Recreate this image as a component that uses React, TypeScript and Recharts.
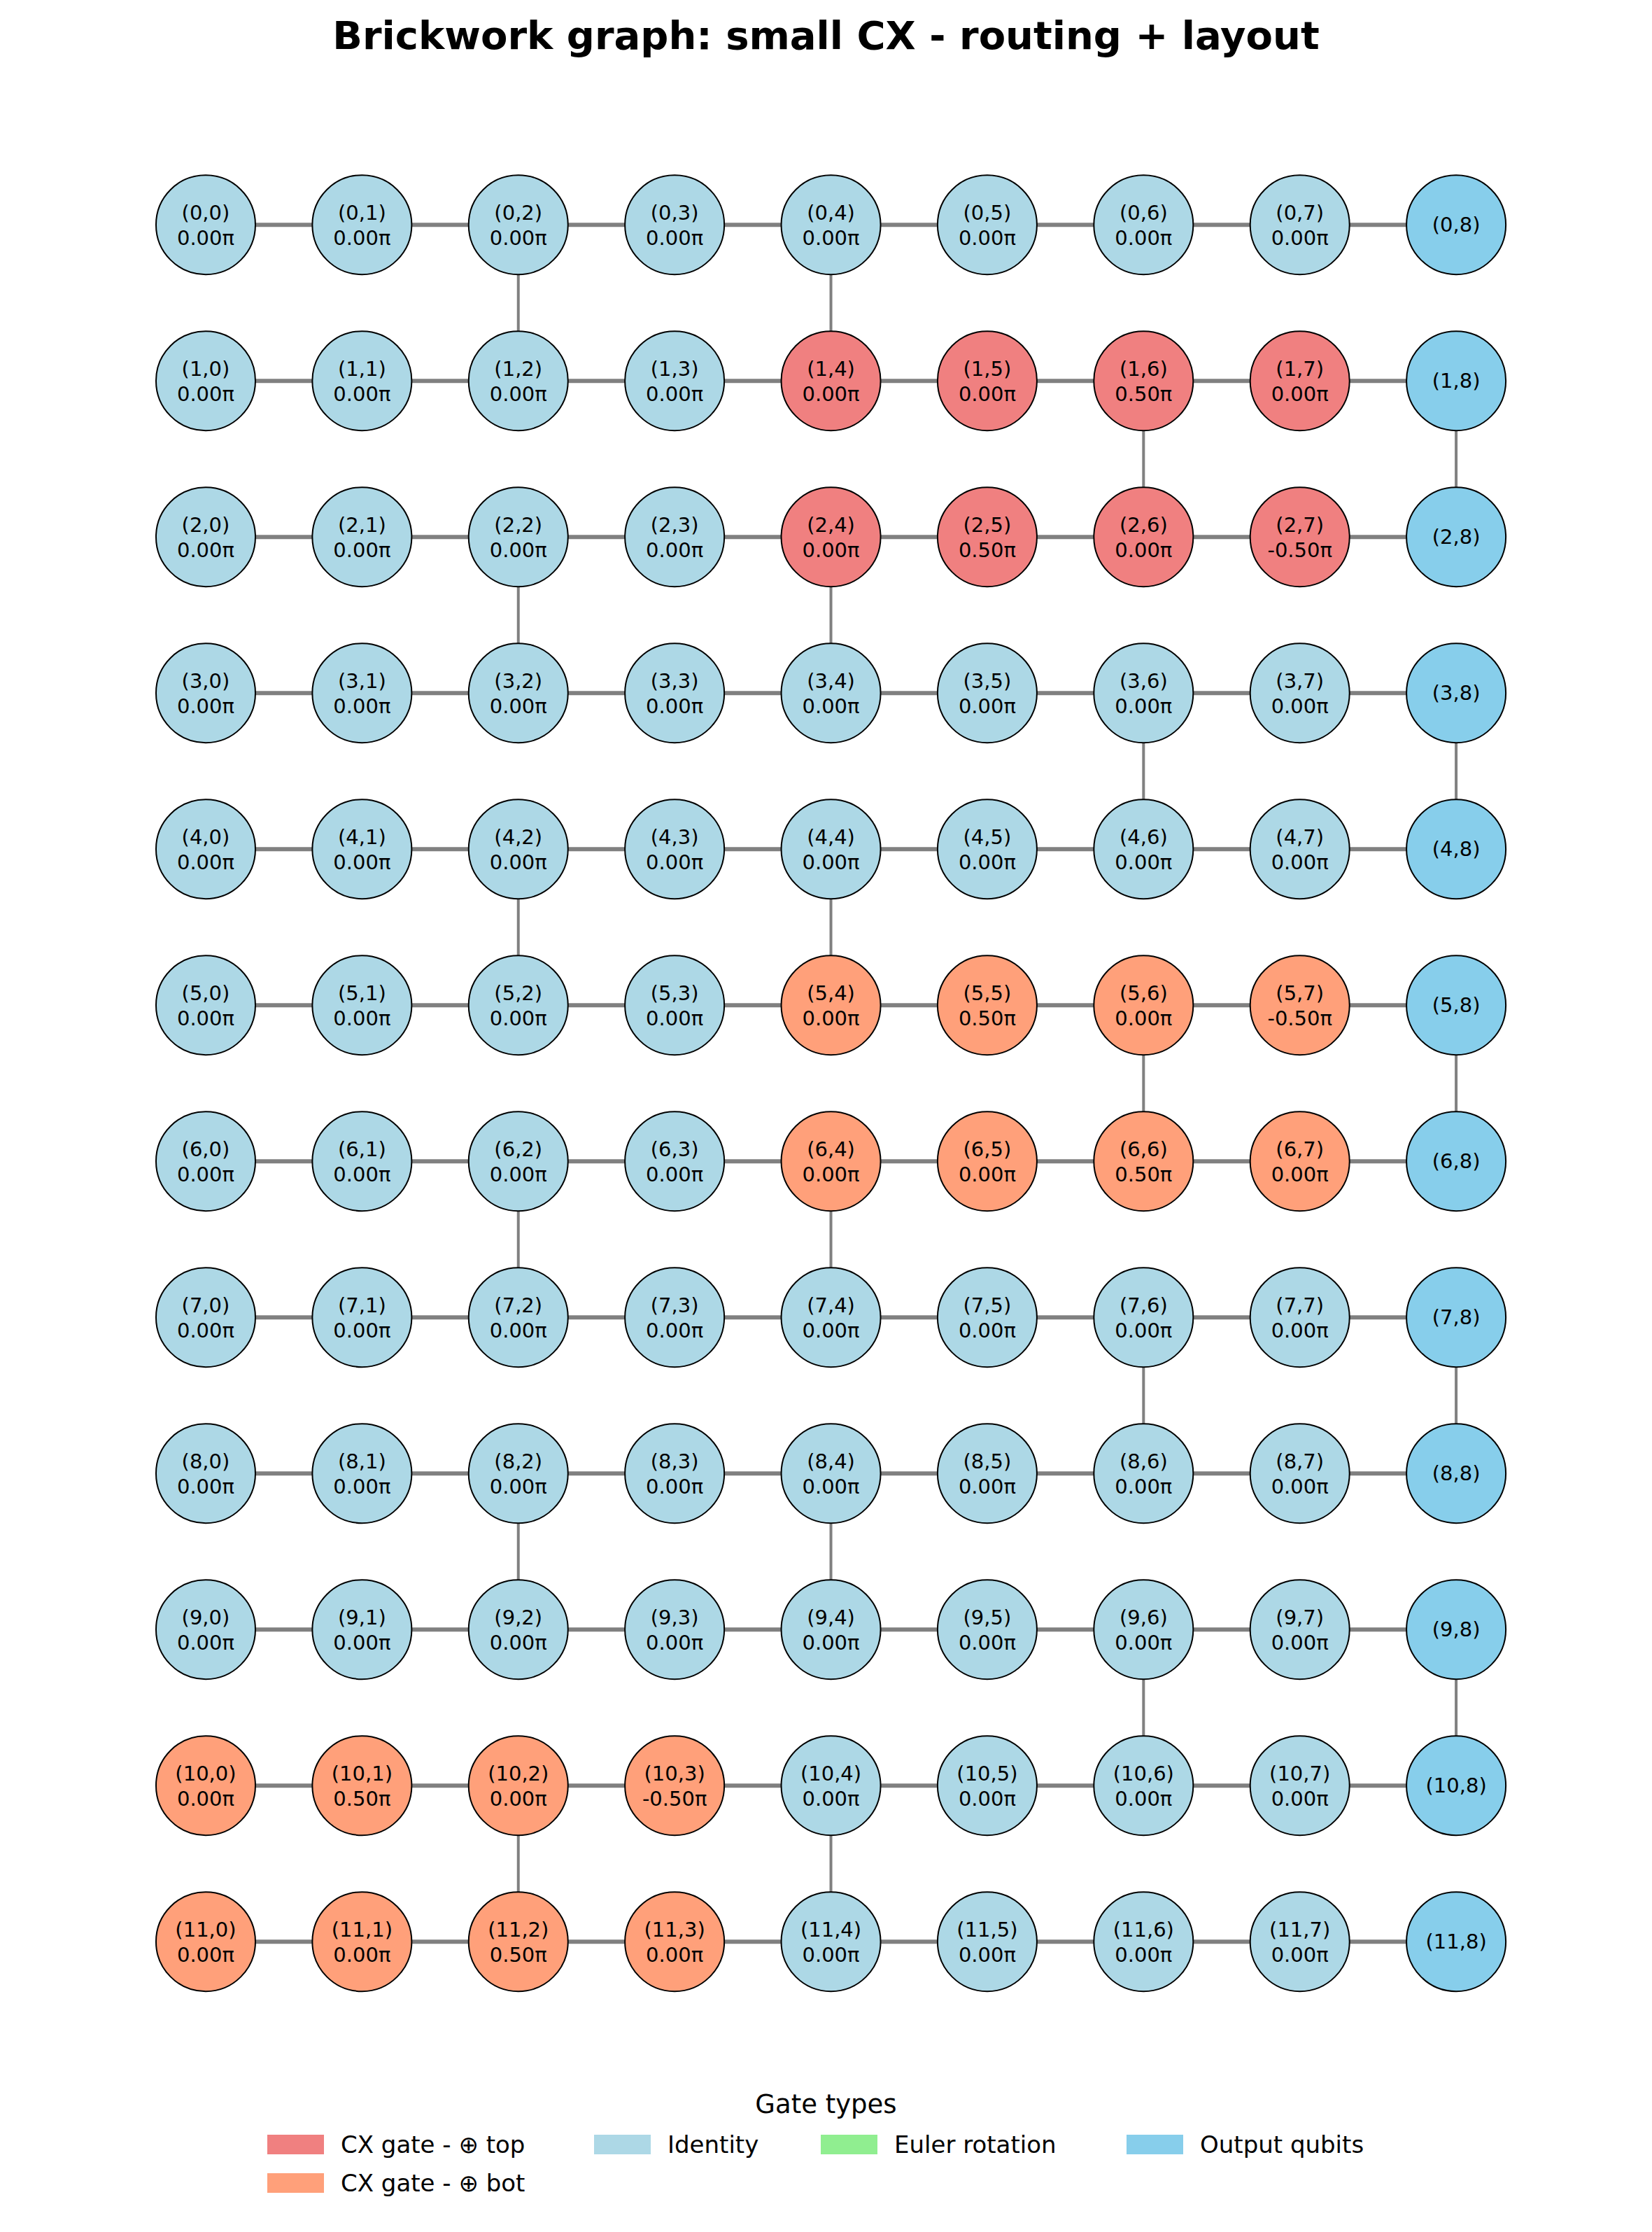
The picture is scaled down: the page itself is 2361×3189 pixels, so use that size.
import { ScatterChart, Scatter, XAxis, YAxis } from 'recharts';

const ROWS = 12;
const COLS = 9;
// vertical links between row r and r+1
const verticalCols: number[][] = [
  [2, 4], [6, 8], [2, 4], [6, 8], [2, 4], [6, 8], [2, 4], [6, 8], [2, 4], [6, 8], [2, 4],
];
const cxTop: [number, number][] = [
  [1, 4], [1, 5], [1, 6], [1, 7], [2, 4], [2, 5], [2, 6], [2, 7],
];
const cxBot: [number, number][] = [
  [5, 4], [5, 5], [5, 6], [5, 7], [6, 4], [6, 5], [6, 6], [6, 7],
  [10, 0], [10, 1], [10, 2], [10, 3], [11, 0], [11, 1], [11, 2], [11, 3],
];
const angles: [number, number, string][] = [
  [1, 6, '0.50'], [2, 5, '0.50'], [2, 7, '-0.50'], [5, 5, '0.50'], [5, 7, '-0.50'],
  [6, 6, '0.50'], [10, 1, '0.50'], [10, 3, '-0.50'], [11, 2, '0.50'],
];
const legendItems = [
  { label: 'CX gate - ⊕ top', color: '#F08080' },
  { label: 'CX gate - ⊕ bot', color: '#FFA07A' },
  { label: 'Identity', color: '#ADD8E6' },
  { label: 'Euler rotation', color: '#90EE90' },
  { label: 'Output qubits', color: '#87CEEB' },
];

const has = (list: [number, number][], r: number, c: number) => list.some(([a, b]) => a === r && b === c);

type Node = { x: number; y: number; r: number; c: number; fill: string; angle: string | null };
const nodes: Node[] = [];
for (let r = 0; r < ROWS; r++) {
  for (let c = 0; c < COLS; c++) {
    let fill = '#ADD8E6';
    if (c === 8) fill = '#87CEEB';
    else if (has(cxTop, r, c)) fill = '#F08080';
    else if (has(cxBot, r, c)) fill = '#FFA07A';
    const a = angles.find(([ar, ac]) => ar === r && ac === c);
    nodes.push({ x: c, y: r, r, c, fill, angle: c === 8 ? null : a ? a[2] : '0.00' });
  }
}

const edges: { pts: { x: number; y: number }[]; w: number }[] = [];
for (let r = 0; r < ROWS; r++)
  for (let c = 0; c < COLS - 1; c++) edges.push({ pts: [{ x: c, y: r }, { x: c + 1, y: r }], w: 6 });
verticalCols.forEach((cols, r) =>
  cols.forEach((c) => edges.push({ pts: [{ x: c, y: r }, { x: c, y: r + 1 }], w: 4 })));

function NodeShape(props: any) {
  const { cx, cy, payload } = props;
  const font = 'DejaVu Sans, sans-serif';
  return (
    <g>
      <circle cx={cx} cy={cy} r={71} fill={payload.fill} stroke="#000" strokeWidth={2} />
      {payload.angle === null ? (
        <text x={cx} y={cy} textAnchor="middle" dominantBaseline="central" fontSize={29} fontFamily={font}>
          ({payload.r},{payload.c})
        </text>
      ) : (
        <>
          <text x={cx} y={cy - 17} textAnchor="middle" dominantBaseline="central" fontSize={29} fontFamily={font}>
            ({payload.r},{payload.c})
          </text>
          <text x={cx} y={cy + 19} textAnchor="middle" dominantBaseline="central" fontSize={29} fontFamily={font}>
            {payload.angle}π
          </text>
        </>
      )}
    </g>
  );
}

const legendX = [382, 849, 1173, 1610];

export default function App() {
  const W = 2361;
  const H = 3189;
  return (
    <div style={{ position: 'absolute', left: 0, top: 0, width: W, height: H, background: '#fff', fontFamily: 'DejaVu Sans, sans-serif' }}>
      <div style={{ position: 'absolute', top: 18, width: W, textAlign: 'center', fontSize: 56, fontWeight: 'bold' }}>
        Brickwork graph: small CX - routing + layout
      </div>
      <ScatterChart width={W} height={H} margin={{ top: 0, right: 0, bottom: 0, left: 0 }}>
        <XAxis type="number" dataKey="x" hide domain={[-1.316, 9.253]} allowDataOverflow />
        <YAxis type="number" dataKey="y" hide reversed domain={[-1.44, 12.86]} allowDataOverflow />
        {edges.map((e, i) => (
          <Scatter key={i} data={e.pts} line={{ stroke: '#808080', strokeWidth: e.w }} shape={() => null} isAnimationActive={false} />
        ))}
        <Scatter data={nodes} shape={NodeShape} isAnimationActive={false} />
      </ScatterChart>
      <div style={{ position: 'absolute', top: 2985, width: W, textAlign: 'center', fontSize: 37 }}>Gate types</div>
      {legendItems.map((it, i) => {
        const col = i === 0 || i === 1 ? 0 : i - 1;
        const row = i === 1 ? 1 : 0;
        return (
          <div key={it.label} style={{ position: 'absolute', left: legendX[col], top: 3044 + row * 55, display: 'flex', alignItems: 'center', fontSize: 34 }}>
            <div style={{ width: 81, height: 28, background: it.color, marginRight: 24 }} />
            {it.label}
          </div>
        );
      })}
    </div>
  );
}
